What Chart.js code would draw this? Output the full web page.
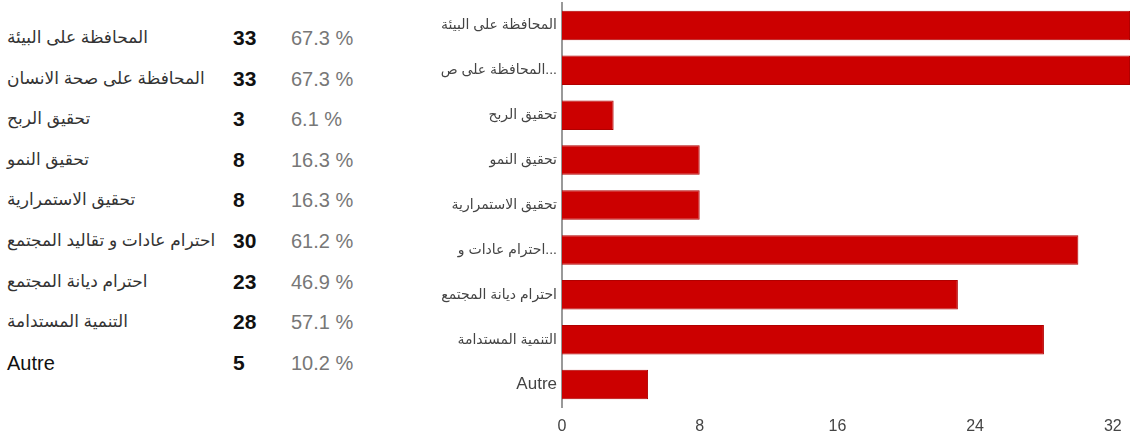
<!DOCTYPE html>
<html lang="ar">
  <head>
    <meta charset="UTF-8" />
    <title>Responses</title>
    <script src="https://cdn.jsdelivr.net/npm/chart.js"></script>
    <style>
      body {
        margin: 0;
        width: 1135px;
        height: 440px;
        background: #fff;
        font-family: Arial, "Liberation Sans", "DejaVu Sans", sans-serif;
        overflow: hidden;
        position: relative;
      }
      #summary {
        position: absolute;
        left: 0;
        top: 18px;
        width: 390px;
      }
      .row {
        position: relative;
        height: 40.6px;
        line-height: 40px;
      }
      .row span {
        position: absolute;
        top: 0;
        white-space: nowrap;
      }
      .name {
        left: 7px;
        direction: ltr;
        font-size: 17px;
        color: #333;
      }
      .count {
        left: 233px;
        font-size: 21px;
        font-weight: bold;
        color: #111;
      }
      .pct {
        left: 291px;
        font-size: 20px;
        color: #777;
      }
      #chartBox {
        position: absolute;
        left: 400px;
        top: 0;
        width: 735px;
        height: 440px;
      }
    </style>
  </head>
  <body>
    <div id="summary"></div>
    <div id="chartBox"><canvas id="barChart"></canvas></div>

    <script>
      // answers as they appear in the summary table
      const categories = [
        "المحافظة على البيئة",
        "المحافظة على صحة الانسان",
        "تحقيق الربح",
        "تحقيق النمو",
        "تحقيق الاستمرارية",
        "احترام عادات و تقاليد المجتمع",
        "احترام ديانة المجتمع",
        "التنمية المستدامة",
        "Autre",
      ];
      // shortened names used on the bar chart axis
      // (bidi isolates keep the dots on the right, next to the axis)
      const tickLabels = [
        "المحافظة على البيئة",
        "\u2066\u2067المحافظة على ص\u2069...\u2069",
        "تحقيق الربح",
        "تحقيق النمو",
        "تحقيق الاستمرارية",
        "\u2066\u2067احترام عادات و\u2069...\u2069",
        "احترام ديانة المجتمع",
        "التنمية المستدامة",
        "Autre",
      ];
      const counts = [33, 33, 3, 8, 8, 30, 23, 28, 5];
      const percents = [67.3, 67.3, 6.1, 16.3, 16.3, 61.2, 46.9, 57.1, 10.2];
      const xTicks = [0, 8, 16, 24, 32];

      // summary table on the left
      const summaryEl = document.getElementById("summary");
      categories.forEach((name, i) => {
        const row = document.createElement("div");
        row.className = "row";
        const nameSize = name === "Autre" ? "font-size:20px;color:#111" : "";
        row.innerHTML = `
          <span class="name" style="${nameSize}">${name}</span>
          <span class="count">${counts[i]}</span>
          <span class="pct">${percents[i].toFixed(1)} %</span>
        `;
        summaryEl.appendChild(row);
      });

      const isLatin = (s) => /[A-Za-z]/.test(s);

      // bar chart on the right
      new Chart(document.getElementById("barChart"), {
        type: "bar",
        data: {
          labels: tickLabels,
          datasets: [
            {
              data: counts,
              backgroundColor: "#cc0000",
              borderColor: "#b00000",
              borderWidth: 1,
              barPercentage: 0.9,
              categoryPercentage: 0.73,
            },
          ],
        },
        options: {
          indexAxis: "y",
          responsive: true,
          maintainAspectRatio: false,
          animation: false,
          layout: { padding: { top: 3, right: 5, bottom: 0, left: 0 } },
          plugins: {
            legend: { display: false },
            tooltip: { enabled: false },
          },
          scales: {
            x: {
              min: 0,
              max: 33,
              grid: { display: false, drawTicks: false },
              border: { display: false },
              afterBuildTicks: (scale) => {
                scale.ticks = xTicks.map((v) => ({ value: v }));
              },
              afterFit: (scale) => {
                scale.height = 33;
              },
              ticks: {
                padding: 10,
                color: "#444",
                font: { family: "Arial, 'Liberation Sans'", size: 16 },
              },
            },
            y: {
              grid: { display: false, drawTicks: false },
              border: { display: true, color: "#999", width: 2 },
              afterFit: (scale) => {
                scale.width = 162;
                scale.paddingTop = 0;
                scale.paddingBottom = 0;
              },
              ticks: {
                autoSkip: false,
                padding: 5,
                color: "#444",
                font: (c) => ({
                  family: "Arial, 'Liberation Sans', 'DejaVu Sans'",
                  size: isLatin(tickLabels[c.index] || "") ? 17 : 14,
                }),
              },
            },
          },
        },
      });
    </script>
  </body>
</html>
